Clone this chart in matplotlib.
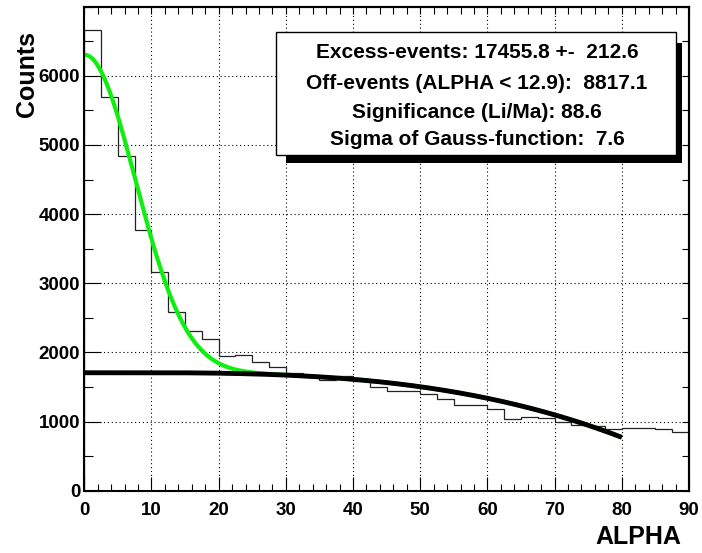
import numpy as np
import matplotlib
matplotlib.use("Agg")
import matplotlib.pyplot as plt
from matplotlib.patches import Rectangle
from matplotlib.ticker import MultipleLocator, FixedLocator

# histogram of ALPHA, bins of 2.5 deg
bin_edges = np.arange(0, 90.1, 2.5)
counts = [6670, 5690, 4840, 3770, 3170, 2590, 2310, 2190, 1950, 1960,
          1865, 1785, 1700, 1645, 1600, 1660, 1590, 1500, 1445, 1445,
          1395, 1330, 1245, 1245, 1175, 1030, 1060, 1045, 1000, 950,
          940, 895, 900, 910, 895, 855]
y_ticks = [0, 1000, 2000, 3000, 4000, 5000, 6000]

# fit parameters (background a + c2*x^2 + c3*x^3, gauss at 0)
bg_a = 1706.0
bg_c2 = 0.0272
bg_c3 = -2.164e-3
gauss_amp = 4600.0
gauss_sigma = 7.6
fit_min, fit_max = 0.0, 80.0

box_lines = ["Excess-events: 17455.8 +-  212.6",
             "Off-events (ALPHA < 12.9):  8817.1",
             "Significance (Li/Ma): 88.6",
             "Sigma of Gauss-function:  7.6"]

W, H = 702, 553
plt.rcParams['font.family'] = ['Liberation Sans', 'DejaVu Sans']
plt.rcParams['font.weight'] = 'bold'

fig = plt.figure(figsize=(W / 100, H / 100), dpi=100)
fig.patch.set_facecolor('white')


def fx(px):
    return px / W


def fy(py):
    return 1 - py / H


ax = fig.add_axes([fx(84.3), fy(490.7), fx(689) - fx(84.3), fy(6.7) - fy(490.7)])
ax.set_xlim(0, 90)
ax.set_ylim(0, 7000)

ax.grid(which='major', color='black', linestyle=(0, (1, 2.5)), linewidth=0.8, zorder=0)
ax.set_axisbelow(True)

ax.stairs(counts, bin_edges, color='#222222', linewidth=0.9, zorder=2)

x = np.linspace(fit_min, fit_max, 400)
bg = bg_a + bg_c2 * x ** 2 + bg_c3 * x ** 3
total = bg + gauss_amp * np.exp(-x ** 2 / (2 * gauss_sigma ** 2))
ax.plot(x, total, color='#10ee10', linewidth=3.0, zorder=3, solid_capstyle='butt')
ax.plot(x, bg, color='black', linewidth=3.5, zorder=4, solid_capstyle='butt')

for s in ax.spines.values():
    s.set_linewidth(1.5)
    s.set_zorder(5)

ax.xaxis.set_major_locator(MultipleLocator(10))
ax.xaxis.set_minor_locator(MultipleLocator(2))
ax.yaxis.set_major_locator(FixedLocator(y_ticks))
ax.yaxis.set_minor_locator(MultipleLocator(500))
ax.tick_params(axis='x', which='major', direction='in', length=10, width=0.8,
               labelsize=13.5, pad=8)
ax.tick_params(axis='x', which='minor', direction='in', length=5, width=0.8)
ax.tick_params(axis='y', which='major', direction='in', length=12, width=0.8,
               labelsize=13.5, pad=3)
ax.tick_params(axis='y', which='minor', direction='in', length=6.5, width=0.8)

top = ax.secondary_xaxis('top')
top.xaxis.set_major_locator(MultipleLocator(10))
top.xaxis.set_minor_locator(MultipleLocator(2))
top.tick_params(which='both', direction='in', length=5, width=0.8, labeltop=False)
right = ax.secondary_yaxis('right')
right.yaxis.set_major_locator(MultipleLocator(1000))
right.yaxis.set_minor_locator(MultipleLocator(500))
right.tick_params(which='both', direction='in', length=5, width=0.8, labelright=False)
for sec in (top, right):
    for s in sec.spines.values():
        s.set_linewidth(1.5)

fig.text(fx(27), fy(74), "Counts", rotation=90, ha='center', va='center',
         fontsize=18, fontweight='bold')
fig.text(fx(638.5), fy(537), "ALPHA", ha='center', va='center',
         fontsize=18, fontweight='bold')

# stats box with shadow
fig.add_artist(Rectangle((fx(286), fy(163)), fx(682) - fx(286), fy(43) - fy(163),
                         transform=fig.transFigure, facecolor='black',
                         edgecolor='none', zorder=10))
fig.add_artist(Rectangle((fx(276), fy(155)), fx(676) - fx(276), fy(31.7) - fy(155),
                         transform=fig.transFigure, facecolor='white',
                         edgecolor='black', linewidth=1.0, zorder=11))
baselines = [57.7, 89, 118.5, 145]
for line, yb in zip(box_lines, baselines):
    fig.text(fx(477), fy(yb), line, ha='center', va='baseline',
             fontsize=15, fontweight='bold', zorder=12)

fig.savefig("out.png", dpi=100)
